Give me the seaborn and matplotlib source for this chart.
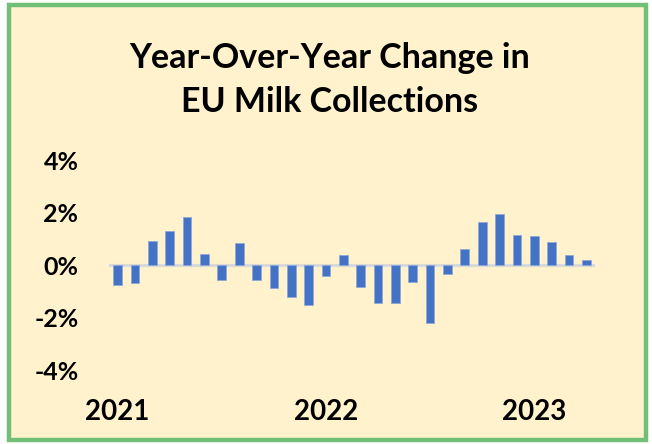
import matplotlib
matplotlib.use("Agg")
import matplotlib.pyplot as plt
import seaborn as sns
import pandas as pd
from matplotlib.patches import Rectangle
from matplotlib.ticker import FuncFormatter

# monthly YoY change, Jan 2021 .. Apr 2023 (%)
months = pd.date_range("2021-01-01", "2023-04-01", freq="MS").strftime("%Y-%m").tolist()
yoy_change = [-0.77, -0.68, 0.90, 1.31, 1.81, 0.41, -0.59, 0.83, -0.57, -0.89, -1.22, -1.52,
              -0.43, 0.40, -0.82, -1.46, -1.45, -0.65, -2.20, -0.35, 0.61, 1.62, 1.96, 1.13,
              1.12, 0.86, 0.37, 0.18]
year_labels = ["2021", "2022", "2023"]
year_ticks = [0, 12, 24]

df = pd.DataFrame({"month": months, "yoy": yoy_change})

sns.set_theme(style="white")
plt.rcParams["font.family"] = ["Lato", "DejaVu Sans"]
plt.rcParams["text.color"] = "black"
plt.rcParams["xtick.color"] = "black"
plt.rcParams["ytick.color"] = "black"

bg = "#fff2cc"
fig = plt.figure(figsize=(6.52, 4.44), dpi=100, facecolor="white")
fig.patches.append(Rectangle((9 / 652, 4 / 444), 637 / 652, 435 / 444, transform=fig.transFigure,
                             facecolor=bg, edgecolor="#72bf78", linewidth=3.2, zorder=-5))

ax = fig.add_axes([109 / 652, 1 - 370 / 444, 486 / 652, 210 / 444])
ax.set_zorder(2)
ax.set_facecolor("none")
sns.barplot(data=df, x="month", y="yoy", color="#4472c4", width=0.5, saturation=1,
            edgecolor="#8fa9d8", linewidth=0.6, ax=ax)
ax.axhline(0, color="#d9d9d9", linewidth=2.2, zorder=0.5)

ax.set_xlim(-0.5, len(months) - 0.5)
ax.set_ylim(-4, 4)
ax.set_yticks([-4, -2, 0, 2, 4])
ax.yaxis.set_major_formatter(FuncFormatter(lambda v, _: f"{v:.0f}%"))
ax.set_xticks(year_ticks)
ax.set_xticklabels(year_labels)
ax.tick_params(axis="y", length=0, pad=22, labelsize=18)
ax.tick_params(axis="x", length=0, pad=21, labelsize=20)
for lab in ax.get_xticklabels() + ax.get_yticklabels():
    lab.set_fontweight("bold")
ax.set_xlabel("")
ax.set_ylabel("")
sns.despine(ax=ax, left=True, bottom=True)

fig.text(0.505, 0.82, "Year-Over-Year Change in\nEU Milk Collections", ha="center", va="center",
         fontsize=24.5, fontweight="bold", linespacing=1.45)

fig.savefig("out.png", dpi=100, facecolor="white")
